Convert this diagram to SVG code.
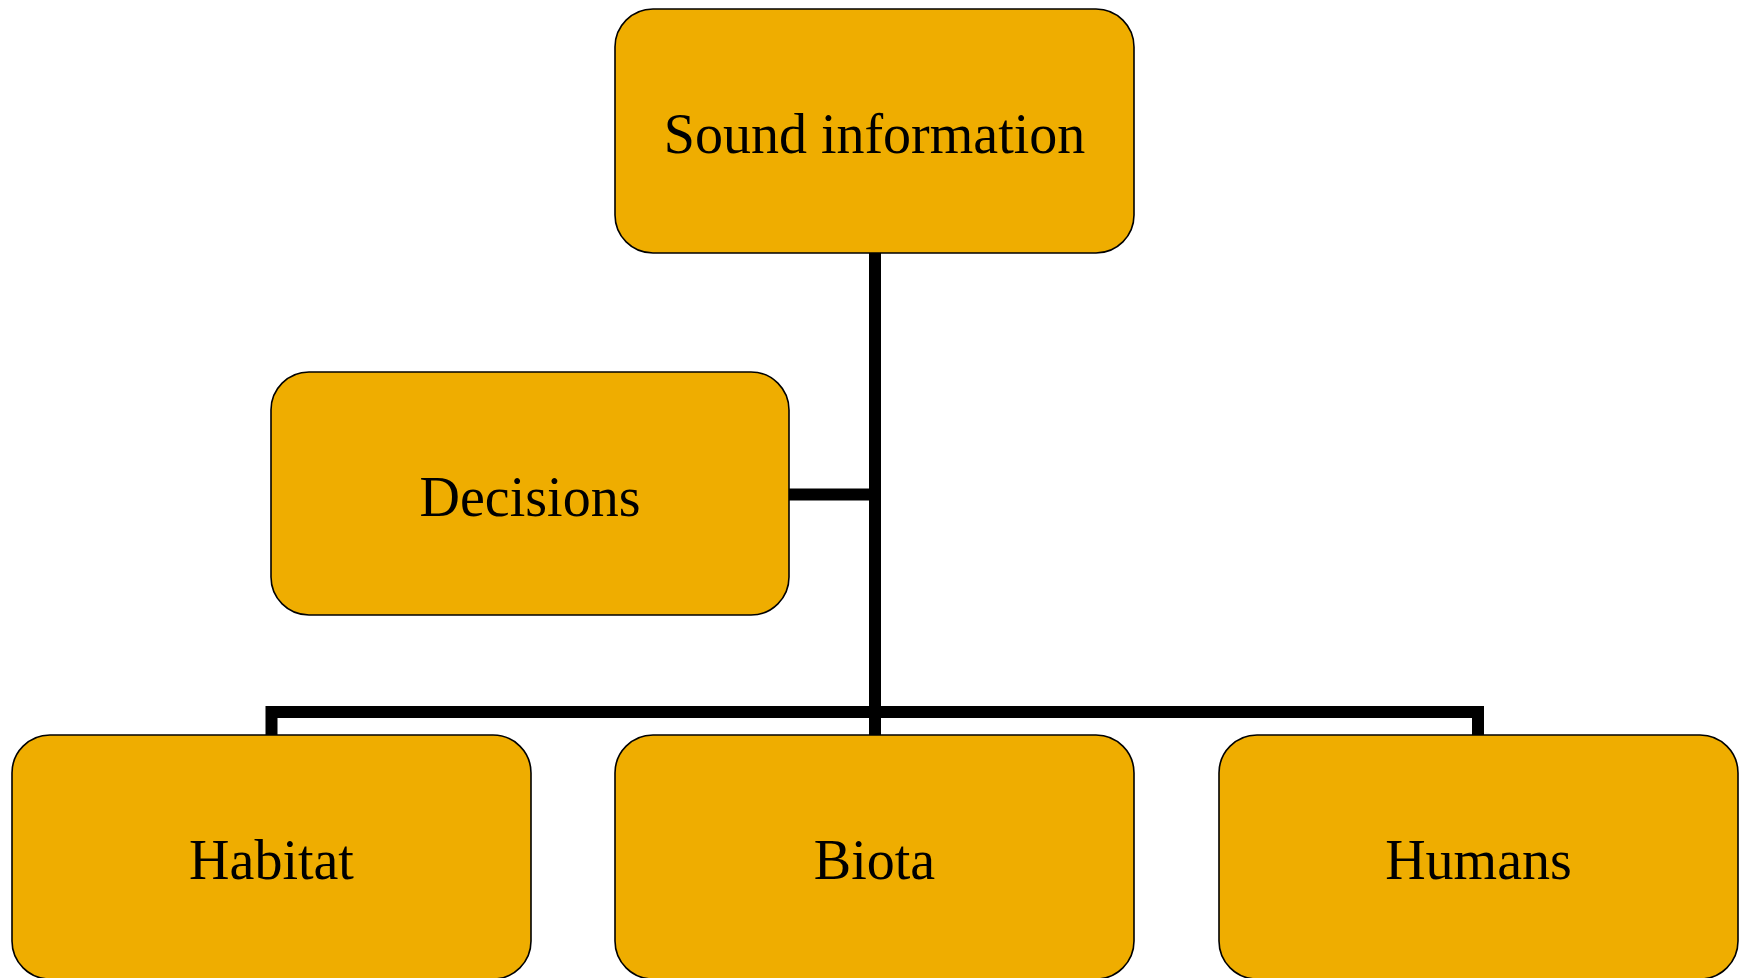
<svg xmlns="http://www.w3.org/2000/svg" width="1744" height="978" viewBox="0 0 1744 978">
  <style>
    .box { fill: #EFAD00; stroke: #000; stroke-width: 1.6; }
    .label { font-family: "Liberation Serif", "Times New Roman", serif; font-size: 56px; fill: #000; text-anchor: middle; }
    .link { fill: none; stroke: #000; stroke-width: 12; stroke-linecap: butt; stroke-linejoin: miter; }
  </style>
  <rect width="1744" height="978" fill="#fff"/>

  <!-- connectors: trunk, side branch and bottom bus -->
  <g id="connectors">
    <path class="link" d="M875 253 V735"/>
    <path class="link" d="M789 494.5 H875"/>
    <path class="link" d="M271.5 735 V712 H1478 V735"/>
  </g>

  <g id="node-sound-information">
    <rect class="box" x="615" y="9" width="519" height="244" rx="38" ry="38"/>
    <text class="label" x="874.5" y="153">Sound information</text>
  </g>

  <g id="node-decisions">
    <rect class="box" x="271" y="372" width="518" height="243" rx="38" ry="38"/>
    <text class="label" x="530" y="516">Decisions</text>
  </g>

  <g id="node-habitat">
    <rect class="box" x="12" y="735" width="519" height="244" rx="38" ry="38"/>
    <text class="label" x="271.5" y="879">Habitat</text>
  </g>

  <g id="node-biota">
    <rect class="box" x="615" y="735" width="519" height="244" rx="38" ry="38"/>
    <text class="label" x="874.5" y="879">Biota</text>
  </g>

  <g id="node-humans">
    <rect class="box" x="1219" y="735" width="519" height="244" rx="38" ry="38"/>
    <text class="label" x="1478.5" y="879">Humans</text>
  </g>
</svg>
